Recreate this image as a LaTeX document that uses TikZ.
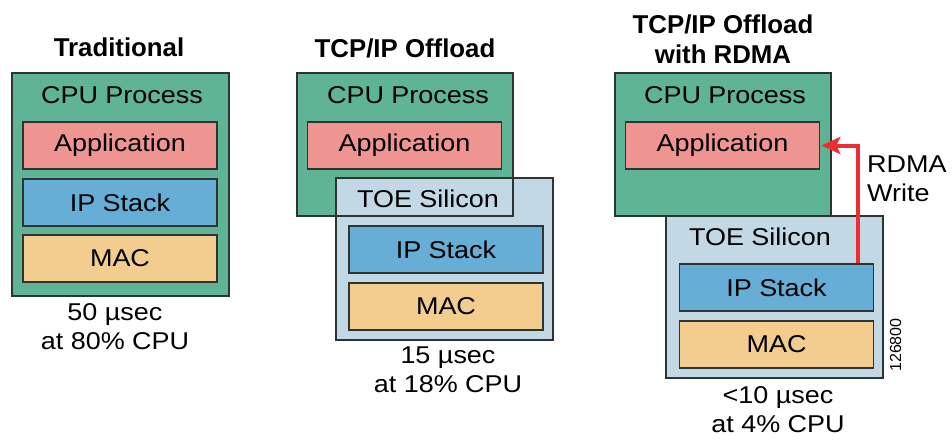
\documentclass[tikz,border=0pt]{standalone}
\usepackage{fontspec}
\setmainfont[FakeStretch=1.11]{Liberation Sans}
\newfontfamily\headfont{Liberation Sans}
\usepackage{tikz}
\usetikzlibrary{arrows.meta}

\definecolor{edge}{RGB}{45,52,50}
\definecolor{cpugreen}{RGB}{94,180,148}
\definecolor{toeblue}{RGB}{195,216,229}
\definecolor{appred}{RGB}{239,149,145}
\definecolor{ipblue}{RGB}{102,174,214}
\definecolor{macsand}{RGB}{243,204,143}
\definecolor{rdmared}{RGB}{236,45,52}

\begin{document}
\begin{tikzpicture}[x=1pt,y=-1pt,>={Stealth[length=19pt,width=17pt,inset=4pt]},
  frame/.style={draw=edge,line width=2pt},
  outer box/.style={frame,minimum width=217pt,inner sep=0pt,outer sep=0pt},
  cpu box/.style={outer box,fill=cpugreen},
  toe box/.style={outer box,fill=toeblue,minimum height=162pt},
  layer/.style={draw=edge,line width=1.6pt,minimum width=194pt,minimum height=47pt,
    inner sep=0pt,font=\fontsize{24.3}{29}\selectfont},
  app/.style={layer,fill=appred},
  ip/.style={layer,fill=ipblue},
  mac/.style={layer,fill=macsand},
  label/.style={inner sep=0pt,font=\fontsize{24.3}{29}\selectfont},
  timing/.style={label,align=center},
  heading/.style={inner sep=0pt,align=center,font=\headfont\bfseries\fontsize{25.8}{30}\selectfont}]

  \useasboundingbox (0,0) rectangle (952,439);

  % traditional
  \node[heading] (head1) at (119,47.5) {Traditional};
  \node[cpu box,minimum height=223pt] (cpu1) at (120.5,184.5) {};
  \node[label] (proc1) at (122,95) {CPU Process};
  \node[app] (app1) at (120,145.5) {Application};
  \node[ip] (ip1) at (120,202.5) {IP Stack};
  \node[mac] (mac1) at (120,258.5) {MAC};
  \node[timing] (time1) at (115,326.5) {50 µsec\\at 80\% CPU};

  % TCP/IP offload
  \node[heading] (head2) at (405,48) {TCP/IP Offload};
  \node[cpu box,minimum width=216pt,minimum height=143pt] (cpu2) at (405,144.5) {};
  \node[label] (proc2) at (408,95) {CPU Process};
  \node[app] (app2) at (404.5,145.5) {Application};
  \node[toe box] (toe2) at (444.5,259) {};
  \draw[frame] (cpu2.north west) rectangle (cpu2.south east);
  \node[label] (silicon2) at (428,199) {TOE Silicon};
  \node[ip] (ip2) at (446,249.5) {IP Stack};
  \node[mac] (mac2) at (446,306.5) {MAC};
  \node[timing] (time2) at (448,370) {15 µsec\\at 18\% CPU};

  % TCP/IP offload with RDMA
  \node[heading] (head3) at (723,39.5) {TCP/IP Offload\\with RDMA};
  \node[cpu box,minimum width=216pt,minimum height=143pt] (cpu3) at (723,144.5) {};
  \node[label] (proc3) at (725,95) {CPU Process};
  \node[app] (app3) at (722.5,145.5) {Application};
  \node[toe box] (toe3) at (774.5,297) {};
  \node[label] (silicon3) at (760,237) {TOE Silicon};
  \node[ip] (ip3) at (776.5,287.5) {IP Stack};
  \node[mac] (mac3) at (776.5,344.5) {MAC};
  \node[timing] (time3) at (778,409.8) {<10 µsec\\at 4\% CPU};

  \coordinate (rdma) at (858,0);
  \draw[->,draw=rdmared,line width=4pt,shorten >=1pt] (ip3.north -| rdma) |- (app3.east);
  \node[label,align=left,anchor=north west] (write) at (867,156) {RDMA\\Write};
  \node[inner sep=0pt,rotate=90,font=\headfont\fontsize{16}{18}\selectfont] (figno) at (895.5,345) {126800};

\end{tikzpicture}
\end{document}
